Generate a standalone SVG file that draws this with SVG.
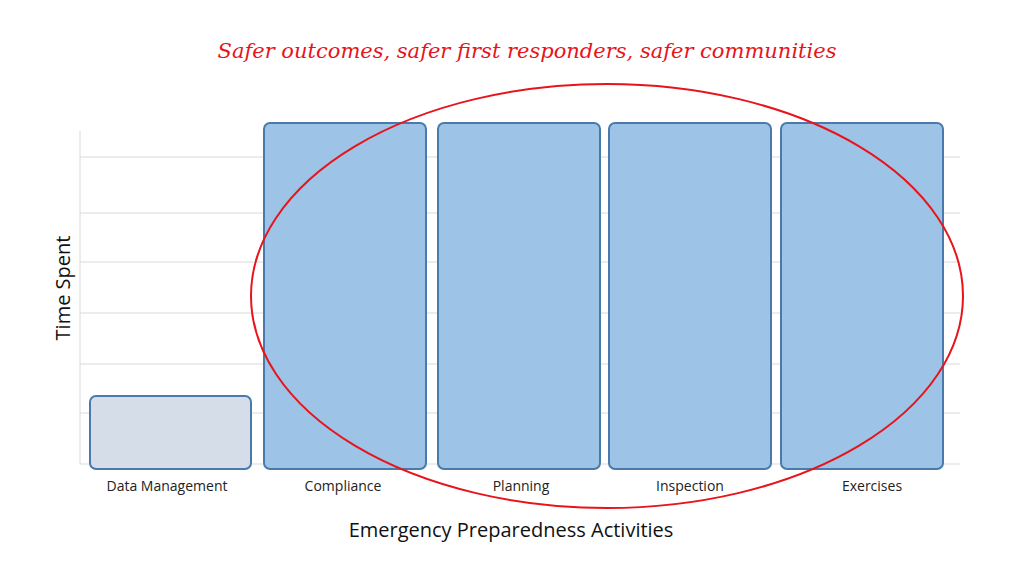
<svg xmlns="http://www.w3.org/2000/svg" width="1024" height="577" viewBox="0 0 1024 577">
<style>
.g{stroke:#d9d9d9;stroke-width:1}
.bar{stroke:#4a7aab;stroke-width:2}
.lbl{font-family:"Open Sans","DejaVu Sans",sans-serif;font-size:14px;fill:#222;text-anchor:middle}
</style>
<rect width="1024" height="577" fill="#fff"/>
<g id="grid">
<line class="g" x1="80" y1="157" x2="960" y2="157"/>
<line class="g" x1="80" y1="213" x2="960" y2="213"/>
<line class="g" x1="80" y1="262" x2="960" y2="262"/>
<line class="g" x1="80" y1="313" x2="960" y2="313"/>
<line class="g" x1="80" y1="364" x2="960" y2="364"/>
<line class="g" x1="80" y1="413" x2="960" y2="413"/>
<line class="g" x1="80" y1="464" x2="960" y2="464"/>
<line class="g" x1="80" y1="131" x2="80" y2="464"/>
</g>
<g id="dm"><rect class="bar" x="90" y="396" width="161" height="73" rx="6" fill="#d5dde8"/><text class="lbl" x="167" y="491">Data Management</text></g>
<g id="compliance"><rect class="bar" x="264" y="123" width="162" height="346" rx="6" fill="#9dc3e6"/><text class="lbl" x="343" y="491">Compliance</text></g>
<g id="planning"><rect class="bar" x="438" y="123" width="162" height="346" rx="6" fill="#9dc3e6"/><text class="lbl" x="521" y="491">Planning</text></g>
<g id="inspection"><rect class="bar" x="609" y="123" width="162" height="346" rx="6" fill="#9dc3e6"/><text class="lbl" x="690" y="491">Inspection</text></g>
<g id="exercises"><rect class="bar" x="781" y="123" width="162" height="346" rx="6" fill="#9dc3e6"/><text class="lbl" x="872" y="491">Exercises</text></g>
<g id="connectors"></g>
<ellipse cx="607" cy="296" rx="356" ry="212" fill="none" stroke="#e8131b" stroke-width="2"/>
<text x="527" y="58" font-family="'DejaVu Serif',serif" font-style="italic" font-size="21" fill="#e8131b" text-anchor="middle">Safer outcomes,  safer first responders, safer communities</text>
<text x="70" y="288" font-family="'Open Sans','DejaVu Sans',sans-serif" font-size="20" fill="#111" text-anchor="middle" transform="rotate(-90 70 288)">Time Spent</text>
<text x="511" y="537" font-family="'Open Sans','DejaVu Sans',sans-serif" font-size="20" fill="#111" text-anchor="middle">Emergency Preparedness Activities</text>
</svg>
